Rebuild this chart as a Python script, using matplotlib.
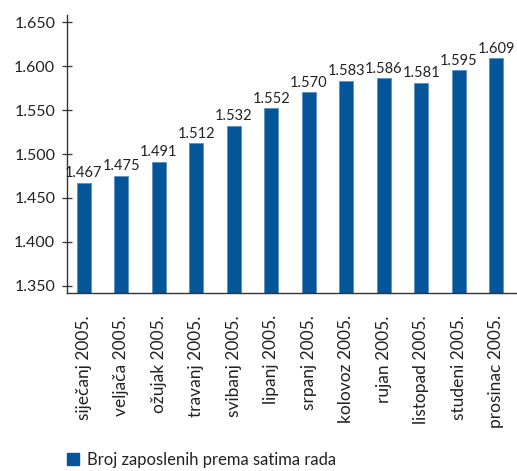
import matplotlib.pyplot as plt
from matplotlib.patches import Patch

months = ['siječanj 2005.', 'veljača 2005.', 'ožujak 2005.', 'travanj 2005.',
          'svibanj 2005.', 'lipanj 2005.', 'srpanj 2005.', 'kolovoz 2005.',
          'rujan 2005.', 'listopad 2005.', 'studeni 2005.', 'prosinac 2005.']
values = [1.467, 1.475, 1.491, 1.512, 1.532, 1.552, 1.570, 1.583, 1.586, 1.581, 1.595, 1.609]
yticks = [1.350, 1.400, 1.450, 1.500, 1.550, 1.600, 1.650]
series_name = 'Broj zaposlenih prema satima rada'

plt.rcParams['font.family'] = ['Lato', 'DejaVu Sans']
bar_color = '#04559a'
text_color = '#222222'

fig = plt.figure(figsize=(5.17, 4.71), dpi=100)
ax = fig.add_axes([0.1296, 0.378, 0.8704, 0.59])

x = list(range(len(values)))
ax.bar(x, values, width=0.37, color=bar_color, edgecolor='#5d8fc0', linewidth=0.6)

for xi, v in zip(x, values):
    ax.text(xi, v + 0.003, f'{v:.3f}', ha='center', va='bottom', fontsize=10.5, color=text_color)

ax.set_xlim(-0.45, 11.55)
ax.set_ylim(1.342, 1.658)
ax.set_yticks(yticks)
ax.set_yticklabels([f'{t:.3f}' for t in yticks], fontsize=11.5, color=text_color)
ax.set_xticks(x)
ax.set_xticklabels(months, rotation=90, fontsize=12.5, color=text_color)
ax.tick_params(axis='y', direction='inout', length=7, width=0.9, color='#333333', pad=5)
ax.tick_params(axis='x', length=0, pad=16)

for s in ['top', 'right']:
    ax.spines[s].set_visible(False)
for s in ['left', 'bottom']:
    ax.spines[s].set_color('#333333')
    ax.spines[s].set_linewidth(1.0)

handle = Patch(facecolor=bar_color, edgecolor=bar_color)
fig.legend([handle], [series_name], loc='lower left', bbox_to_anchor=(0.1, -0.025),
           frameon=False, fontsize=12, handlelength=0.75, handleheight=0.75,
           handletextpad=0.45, labelcolor=text_color)

fig.savefig('out.png', dpi=100)
